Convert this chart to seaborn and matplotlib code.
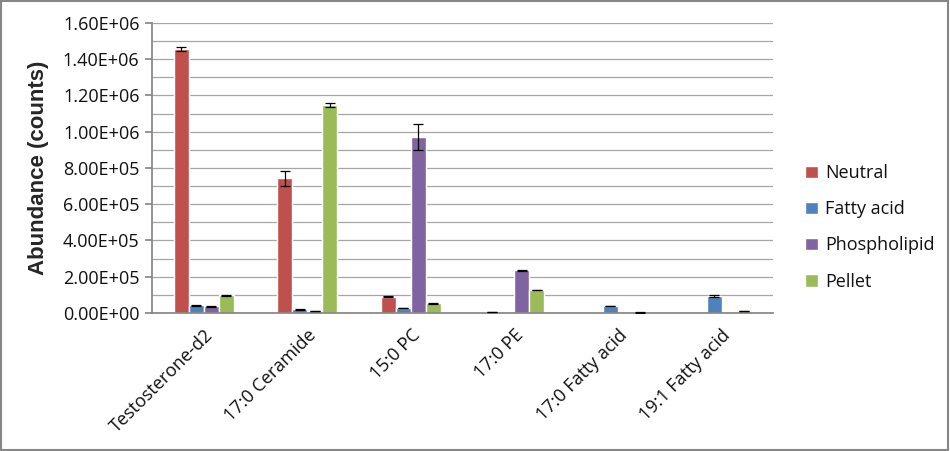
import numpy as np
import pandas as pd
import matplotlib
matplotlib.use("Agg")
import matplotlib.pyplot as plt
import seaborn as sns
from matplotlib.ticker import MultipleLocator, FuncFormatter
from matplotlib.patches import Rectangle

# Data
compounds = ['Testosterone-d2', '17:0 Ceramide', '15:0 PC', '17:0 PE',
             '17:0 Fatty acid', '19:1 Fatty acid']
fractions = ['Neutral', 'Fatty acid', 'Phospholipid', 'Pellet']

neutral = [1.455e6, 0.743e6, 0.090e6, 0.005e6, 0.0, 0.0]
fatty_acid = [0.042e6, 0.020e6, 0.027e6, 0.0, 0.039e6, 0.094e6]
phospholipid = [0.036e6, 0.011e6, 0.970e6, 0.235e6, 0.0, 0.0]
pellet = [0.098e6, 1.148e6, 0.053e6, 0.127e6, 0.003e6, 0.010e6]

neutral_err = [0.010e6, 0.040e6, 0.002e6, 0.001e6, 0.0, 0.0]
fatty_acid_err = [0.002e6, 0.002e6, 0.002e6, 0.0, 0.002e6, 0.007e6]
phospholipid_err = [0.002e6, 0.001e6, 0.070e6, 0.003e6, 0.0, 0.0]
pellet_err = [0.002e6, 0.012e6, 0.001e6, 0.002e6, 0.001e6, 0.001e6]

colors = ['#C0504D', '#4F81BD', '#8064A2', '#9BBB59']

values = [neutral, fatty_acid, phospholipid, pellet]
errors = [neutral_err, fatty_acid_err, phospholipid_err, pellet_err]
df = pd.DataFrame({
    'compound': compounds * 4,
    'fraction': np.repeat(fractions, len(compounds)),
    'abundance': np.concatenate(values),
    'err': np.concatenate(errors),
})

sns.set_theme(style="white")
plt.rcParams['font.family'] = ['Open Sans', 'DejaVu Sans']

fig = plt.figure(figsize=(9.5, 4.51), dpi=100)
ax = fig.add_axes([0.16, 0.306, 0.654, 0.643])

sns.barplot(data=df, x='compound', y='abundance', hue='fraction',
            hue_order=fractions, order=compounds, palette=colors,
            width=0.58, errorbar=None, saturation=1, ax=ax)

# error bars on each bar (patches come in hue order, then category order)
bars = [p for p in ax.patches if p.get_width() > 0][:len(df)]
for bar, (_, row) in zip(bars, df.iterrows()):
    if row['abundance'] <= 0:
        continue
    x = bar.get_x() + bar.get_width() / 2
    ax.errorbar(x, row['abundance'], yerr=row['err'], fmt='none',
                ecolor='black', elinewidth=0.9, capsize=3.5, capthick=0.9,
                zorder=4)

ax.set_ylim(0, 1.6e6)
ax.set_xlim(-0.5, len(compounds) - 0.5)
ax.yaxis.set_major_locator(MultipleLocator(2e5))
ax.yaxis.set_minor_locator(MultipleLocator(1e5))
ax.yaxis.set_major_formatter(FuncFormatter(lambda v, p: f"{v:.2E}"))
ax.grid(True, axis='y', which='both', color='#A6A6A6', linewidth=0.9)
ax.set_axisbelow(True)

for s in ['top', 'right']:
    ax.spines[s].set_visible(False)
ax.spines['left'].set_color('#868686')
ax.spines['bottom'].set_color('#868686')
ax.tick_params(axis='y', which='major', left=True, length=5, color='#868686',
               labelsize=13, labelcolor='#111111', pad=4)
ax.tick_params(axis='y', which='minor', left=False)
ax.tick_params(axis='x', bottom=False, labelsize=13, labelcolor='#111111')
plt.setp(ax.get_xticklabels(), rotation=45, ha='right', rotation_mode='anchor')

ax.set_xlabel('')
ax.set_ylabel('Abundance (counts)', fontsize=16, fontweight='bold',
              family=['Liberation Sans', 'DejaVu Sans'], labelpad=10)

leg = ax.legend(loc='center left', bbox_to_anchor=(1.025, 0.295), frameon=False,
                fontsize=13, handlelength=0.7, handleheight=0.7,
                handletextpad=0.4, labelspacing=1.0)
for t in leg.get_texts():
    t.set_color('#111111')

# grey frame around the whole image
fig.patches.append(Rectangle((0.001, 0.002), 0.997, 0.995, transform=fig.transFigure,
                             fill=False, edgecolor='#868686', linewidth=1.5))

fig.savefig('out.png', dpi=100)
